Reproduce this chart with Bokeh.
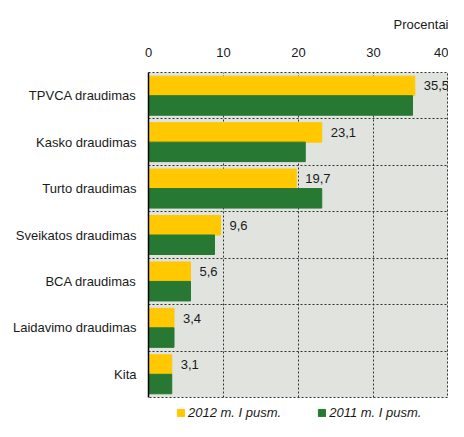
from bokeh.plotting import figure
from bokeh.layouts import column
from bokeh.models import (ColumnDataSource, FactorRange, FixedTicker, Legend, LegendItem,
                          Range1d)
from bokeh.transform import dodge
from bokeh.core.properties import value
from bokeh.embed import file_html
from bokeh.resources import INLINE

categories = ["TPVCA draudimas", "Kasko draudimas", "Turto draudimas",
              "Sveikatos draudimas", "BCA draudimas", "Laidavimo draudimas", "Kita"]
values_2012 = [35.5, 23.1, 19.7, 9.6, 5.6, 3.4, 3.1]
values_2011 = [35.2, 20.9, 23.1, 8.8, 5.6, 3.4, 3.1]
labels_2012 = ["35,5", "23,1", "19,7", "9,6", "5,6", "3,4", "3,1"]
x_ticks = [0, 10, 20, 30, 40]
series_names = ["2012 m. I pusm.", "2011 m. I pusm."]
unit_label = "Procentai"

FONT = "Liberation Sans"
YELLOW = "#FFC800"
GREEN = "#267832"
TXT = "#1a1a1a"

src = ColumnDataSource(dict(cat=categories, v12=values_2012, v11=values_2011, lab=labels_2012))

p = figure(width=448, height=400, output_backend="svg", toolbar_location=None,
           y_range=FactorRange(factors=categories[::-1], range_padding=0),
           x_range=Range1d(0, 40), x_axis_location="above",
           min_border_left=148, min_border_right=0, min_border_top=72, min_border_bottom=3)

p.background_fill_color = "#E0E3DE"
p.border_fill_color = "white"
p.outline_line_color = "#333333"
p.outline_line_dash = "2 2"
p.outline_line_width = 1

p.title.text = unit_label
p.title.align = "right"
p.title.text_font = FONT
p.title.text_font_size = "13px"
p.title.text_font_style = "normal"
p.title.text_color = TXT
p.title.standoff = 26

r12 = p.hbar(y=dodge("cat", 0.21, range=p.y_range), right="v12", left=0, height=0.42,
             source=src, fill_color=YELLOW, line_color=YELLOW)
r11 = p.hbar(y=dodge("cat", -0.21, range=p.y_range), right="v11", left=0, height=0.42,
             source=src, fill_color=GREEN, line_color=GREEN)

p.text(x="v12", y=dodge("cat", 0.21, range=p.y_range), text="lab", source=src,
       x_offset=9, text_baseline="middle", text_align="left",
       text_font=value(FONT), text_font_size="13px", text_color=TXT)

# axes
xa = p.xaxis[0]
xa.ticker = FixedTicker(ticks=x_ticks)
xa.axis_line_color = None
xa.major_tick_line_color = None
xa.minor_tick_line_color = None
xa.major_label_standoff = 10
xa.major_label_text_font = FONT
xa.major_label_text_font_size = "13px"
xa.major_label_text_color = TXT

ya = p.yaxis[0]
ya.axis_line_color = "black"
ya.axis_line_width = 1.5
ya.major_tick_line_color = None
ya.minor_tick_line_color = None
ya.major_label_standoff = 6
ya.major_label_text_font = FONT
ya.major_label_text_font_size = "13px"
ya.major_label_text_color = TXT

# grids
p.xgrid.ticker = FixedTicker(ticks=x_ticks[1:-1])
p.xgrid.grid_line_color = "#333333"
p.xgrid.grid_line_dash = "2 2"
p.xgrid.grid_line_width = 1
p.ygrid.ticker = FixedTicker(ticks=list(range(1, len(categories))))
p.ygrid.grid_line_color = "#333333"
p.ygrid.grid_line_dash = "2 2"
p.ygrid.grid_line_width = 1

# legend strip: a small figure whose bars fall outside its x range, carrying the legend
leg = figure(width=448, height=21, output_backend="svg", toolbar_location=None,
             min_border=0, x_axis_location=None, y_axis_location=None,
             x_range=Range1d(-2, -1),
             y_range=FactorRange(factors=categories[::-1], range_padding=0))
leg.grid.visible = False
leg.outline_line_color = None
d12 = leg.hbar(y="cat", right="v12", left=0, height=0.42, source=src,
               fill_color=YELLOW, line_color=YELLOW)
d11 = leg.hbar(y="cat", right="v11", left=0, height=0.42, source=src,
               fill_color=GREEN, line_color=GREEN)
legend = Legend(items=[LegendItem(label=series_names[0], renderers=[d12]),
                       LegendItem(label=series_names[1], renderers=[d11])],
                orientation="horizontal", location=(28, 1),
                glyph_width=9, glyph_height=9, label_standoff=3, spacing=36,
                padding=0, margin=0, border_line_color=None, background_fill_alpha=0,
                label_text_font=FONT, label_text_font_size="13px",
                label_text_font_style="italic", label_text_color=TXT,
                label_height=14)
leg.add_layout(legend, "center")

layout = column(p, leg, spacing=0)
open("out.html", "w").write(file_html(layout, INLINE))
